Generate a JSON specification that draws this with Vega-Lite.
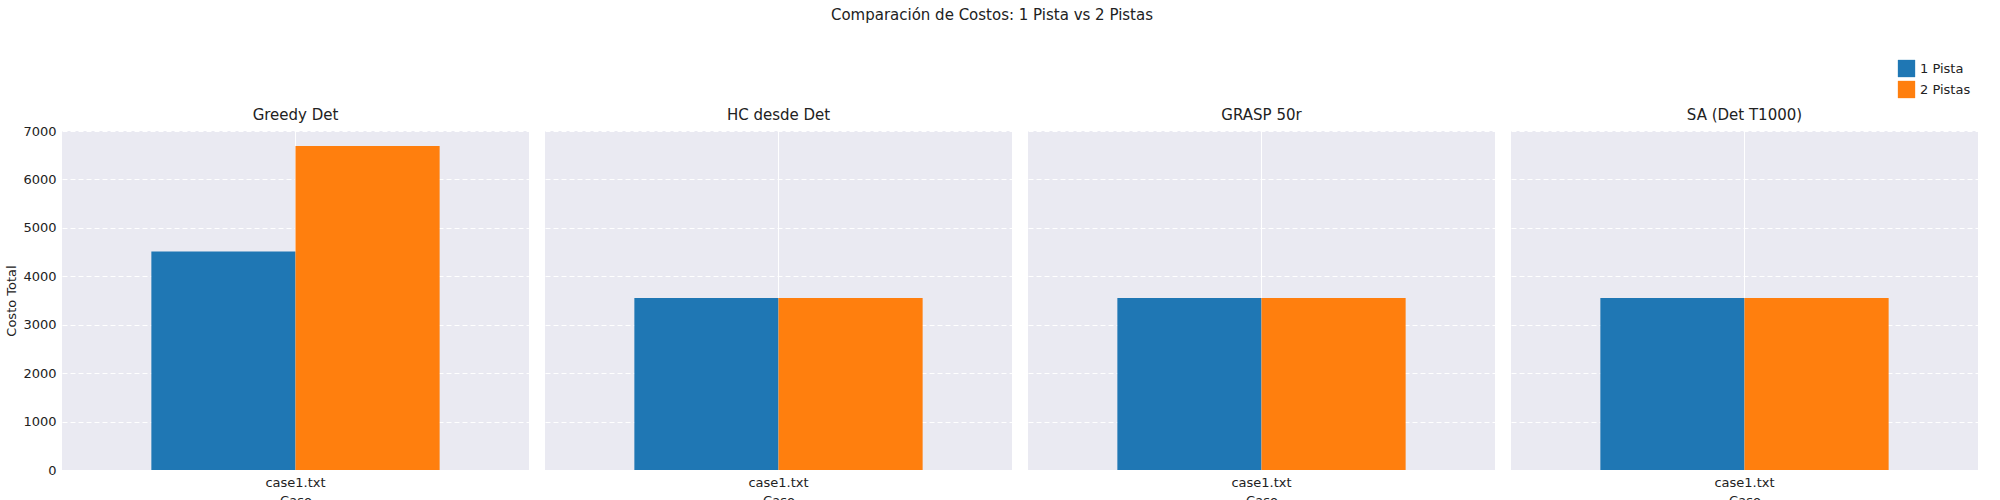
{
"$schema":"https://vega.github.io/schema/vega-lite/v6.json",
"background":"white",
"padding":{"left":5,"top":8,"right":5,"bottom":5},
"title":{"text":"Comparación de Costos: 1 Pista vs 2 Pistas","font":"DejaVu Sans","fontSize":15,"fontWeight":"normal","color":"#222","anchor":"middle","offset":36},
"data":{"values":[
{"m":"Greedy Det","caso":"case1.txt","s":"1 Pista","v":4510},
{"m":"Greedy Det","caso":"case1.txt","s":"2 Pistas","v":6690},
{"m":"HC desde Det","caso":"case1.txt","s":"1 Pista","v":3550},
{"m":"HC desde Det","caso":"case1.txt","s":"2 Pistas","v":3550},
{"m":"GRASP 50r","caso":"case1.txt","s":"1 Pista","v":3550},
{"m":"GRASP 50r","caso":"case1.txt","s":"2 Pistas","v":3550},
{"m":"SA (Det T1000)","caso":"case1.txt","s":"1 Pista","v":3550},
{"m":"SA (Det T1000)","caso":"case1.txt","s":"2 Pistas","v":3550}
]},
"facet":{"column":{"field":"m","sort":["Greedy Det","HC desde Det","GRASP 50r","SA (Det T1000)"],"title":null,"header":{"labelFont":"DejaVu Sans","labelFontSize":15,"labelColor":"#222","labelPadding":8}}},
"spacing":16,
"spec":{
"width":467,"height":339,
"mark":{"type":"bar"},
"encoding":{
"x":{"field":"caso","type":"nominal","title":"Caso","scale":{"paddingInner":0,"paddingOuter":0.31},"axis":{"labelAngle":0,"grid":true,"gridColor":"white","gridDash":[],"ticks":false,"domain":false,"labelFont":"DejaVu Sans","titleFont":"DejaVu Sans","titleFontWeight":"normal","labelFontSize":13,"titleFontSize":13,"labelColor":"#222","titleColor":"#222","titlePadding":5,"labelPadding":6}},
"xOffset":{"field":"s","type":"nominal","sort":["1 Pista","2 Pistas"]},
"y":{"field":"v","type":"quantitative","title":"Costo Total","scale":{"domain":[0,7000],"nice":false},"axis":{"tickCount":8,"format":"d","gridColor":"white","gridDash":[5,3],"ticks":false,"domain":false,"labelFont":"DejaVu Sans","titleFont":"DejaVu Sans","titleFontWeight":"normal","labelFontSize":13,"titleFontSize":13,"labelColor":"#222","titleColor":"#222","labelPadding":6}},
"color":{"field":"s","type":"nominal","scale":{"domain":["1 Pista","2 Pistas"],"range":["#1f77b4","#ff7f0e"]},"legend":{"title":null,"orient":"none","legendX":1835,"legendY":-72,"symbolType":"square","symbolSize":300,"labelFont":"DejaVu Sans","labelFontSize":13,"labelColor":"#222"}}
}
},
"config":{"view":{"fill":"#eaeaf2","stroke":null}}
}
